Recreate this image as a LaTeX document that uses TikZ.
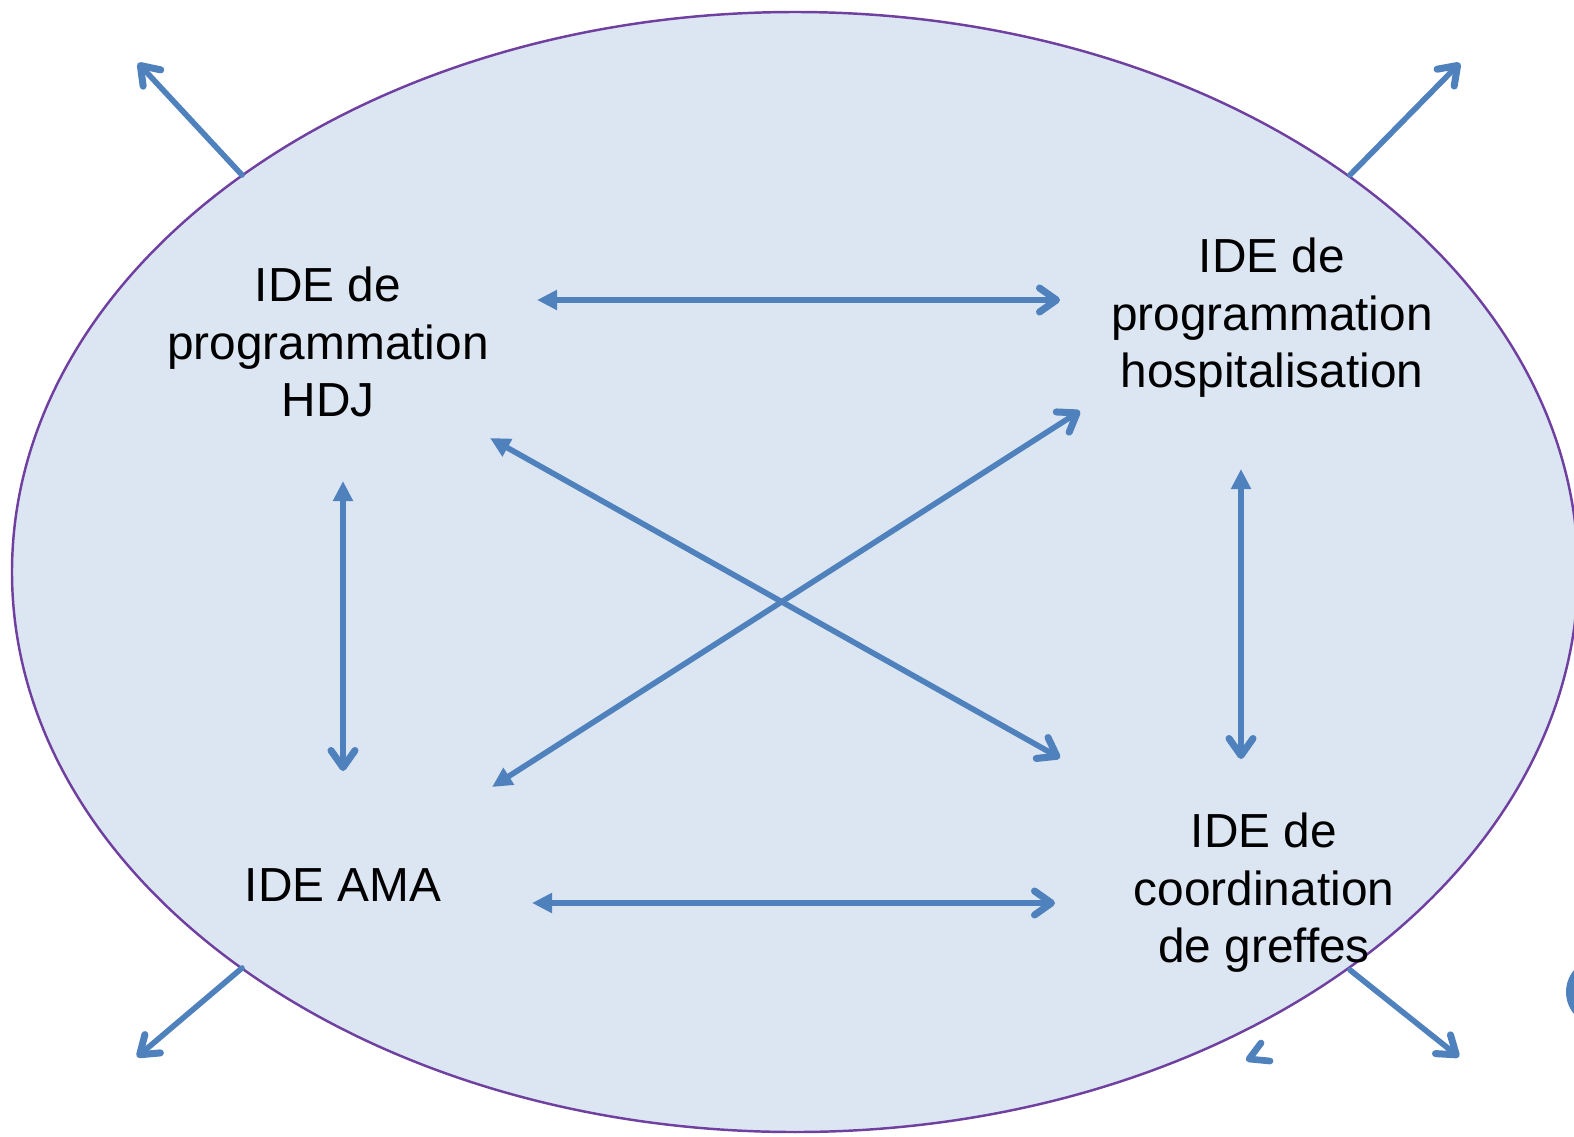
\documentclass[tikz,border=0pt]{standalone}
\usepackage{fontspec}
\setmainfont{Liberation Sans}
\usetikzlibrary{arrows.meta}
\definecolor{fillblue}{HTML}{DCE6F2}
\definecolor{arrowblue}{HTML}{4F81BD}
\definecolor{rimpurple}{HTML}{7040A0}
\tikzset{
  lbl/.style={align=center, font=\fontsize{27.2}{32.7}\selectfont, inner sep=0pt},
  mybarb/.tip={Straight Barb[round,length=3.4mm,width=4.8mm,line width=4pt]},
  mytri/.tip={Triangle[length=4mm,width=3.8mm]},
  link/.style={draw=arrowblue, line width=3.2pt, mytri-mybarb},
  outarrow/.style={draw=arrowblue, line width=3.2pt, line cap=round, -mybarb},
}
\begin{document}
\begin{tikzpicture}[x=0.02cm,y=-0.02cm]
\useasboundingbox (0,0) rectangle (1574,1136);
\clip (0,0) rectangle (1574,1136);
% ellipse
\draw[fill=fillblue, draw=rimpurple, line width=1.4pt] (795,572) ellipse [x radius=783, y radius=560];
% texts
\node[lbl] (hdj) at (328,342) {IDE de\\programmation\\HDJ};
\node[lbl] (hosp) at (1272,318) {IDE de\\programmation\\hospitalisation};
\node[lbl] (ama) at (343,885) {IDE AMA};
\node[lbl] (coord) at (1264,893) {IDE de\\coordination\\de greffes};
% arrow ends
\coordinate (t1) at (537,300); \coordinate (t2) at (1060,300);
\coordinate (b1) at (532,903); \coordinate (b2) at (1055,903);
\coordinate (l1) at (343,481); \coordinate (l2) at (343,771);
\coordinate (r1) at (1241,469); \coordinate (r2) at (1241,759);
\coordinate (d1) at (490,438); \coordinate (d2) at (1060,758);
\coordinate (e1) at (492,787); \coordinate (e2) at (1080,411);
\draw[link] (t1) -- (t2);
\draw[link] (b1) -- (b2);
\draw[link] (l1) -- (l2);
\draw[link] (r1) -- (r2);
\draw[link] (d1) -- (d2);
\draw[link] (e1) -- (e2);
% outer arrows
\coordinate (o1s) at (242,175); \coordinate (o1e) at (138,63);
\coordinate (o2s) at (1350,175); \coordinate (o2e) at (1460,63);
\coordinate (o3s) at (242,968); \coordinate (o3e) at (137,1057);
\coordinate (o4s) at (1350,970); \coordinate (o4e) at (1459,1057);
\draw[outarrow] (o1s) -- (o1e);
\draw[outarrow] (o2s) -- (o2e);
\draw[outarrow] (o3s) -- (o3e);
\draw[outarrow] (o4s) -- (o4e);
% stray fragments
\draw[arrowblue, line width=3.8pt, line cap=round, line join=round] (1261,1043) -- (1249,1059) -- (1270,1061);
\fill[arrowblue] (1600,992) circle [radius=34];
\end{tikzpicture}
\end{document}
